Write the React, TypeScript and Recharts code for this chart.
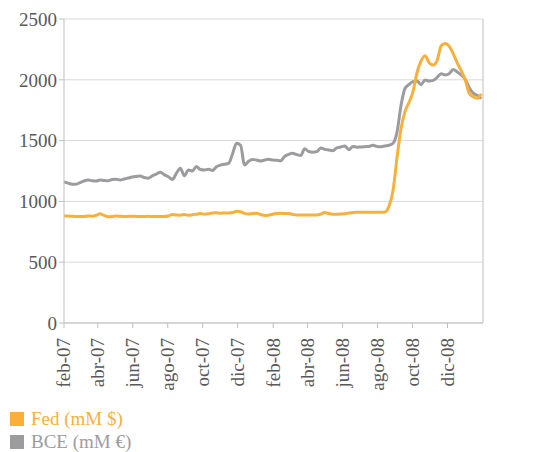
import { LineChart, Line, XAxis, YAxis, CartesianGrid } from 'recharts';

// weekly observations, starting 1 Feb 2007
const firstWeek = Date.UTC(2007, 1, 1);
const weekMs = 7 * 24 * 3600 * 1000;

const fedValues = [
  880, 880, 878, 876, 875, 876, 880, 878, 885, 898,
  885, 874, 876, 880, 878, 876, 877, 878, 876, 875,
  876, 877, 876, 875, 876, 876, 880, 893, 888, 887,
  892, 886, 890, 895, 900, 895, 898, 905, 906, 903,
  905, 904, 908, 918, 915, 902, 896, 900, 903, 892,
  885, 886, 895, 900, 902, 901, 900, 893, 888, 888,
  888, 888, 888, 888, 895, 908, 900, 895, 895, 896,
  898, 905, 908, 910, 910, 910, 910, 910, 910, 910,
  912, 960, 1090, 1360, 1600, 1740, 1815, 1905, 2060, 2155,
  2198, 2140, 2122, 2160, 2280, 2298, 2276, 2215, 2140, 2075,
  1998, 1890, 1860, 1848, 1885,
];

const bceValues = [
  1160, 1150, 1142, 1142, 1154, 1168, 1176, 1170, 1168, 1176,
  1172, 1170, 1180, 1182, 1176, 1184, 1192, 1200, 1205, 1209,
  1196, 1190, 1210, 1225, 1240, 1220, 1203, 1180, 1230, 1272,
  1210, 1258, 1250, 1286, 1262, 1258, 1264, 1255, 1285, 1298,
  1305, 1312, 1390, 1478, 1462, 1300, 1330, 1345, 1340, 1332,
  1340, 1346, 1340, 1338, 1334, 1370, 1387, 1395, 1385, 1378,
  1432, 1410, 1405, 1409, 1440, 1428, 1423, 1417, 1440, 1448,
  1455, 1425, 1452, 1446, 1448, 1450, 1452, 1462, 1452, 1450,
  1456, 1462, 1478, 1570, 1790, 1930, 1962, 1985, 1990, 1960,
  1998, 1990, 1995, 2020, 2050, 2040, 2050, 2085, 2065, 2040,
  2005, 1935, 1890, 1872, 1845,
];

const tickLabels = ['feb-07', 'abr-07', 'jun-07', 'ago-07', 'oct-07', 'dic-07',
  'feb-08', 'abr-08', 'jun-08', 'ago-08', 'oct-08', 'dic-08'];
const monthNames = ['ene', 'feb', 'mar', 'abr', 'may', 'jun', 'jul', 'ago', 'sep', 'oct', 'nov', 'dic'];
const yTicks = [0, 500, 1000, 1500, 2000, 2500];

const seriesNames = ['Fed (mM $)', 'BCE (mM €)'];
const ORANGE = '#F9B03A';
const GRAY = '#9C9C9F';
const TEXT = '#595959';
const FONT = '"Liberation Serif", serif';

const labelToTime = (label: string) => {
  const [m, y] = label.split('-');
  return Date.UTC(2000 + Number(y), monthNames.indexOf(m), 1);
};
const tickValues = tickLabels.map(labelToTime);
const labelByTime = new Map(tickValues.map((t, i) => [t, tickLabels[i]]));

const data = fedValues.map((fed, i) => ({
  date: firstWeek + i * weekMs,
  fed,
  bce: bceValues[i],
}));

const DateTick = (props: any) => {
  const { x, y, payload } = props;
  return (
    <text
      x={x}
      y={y}
      dy="0.34em"
      transform={`rotate(-90, ${x}, ${y})`}
      textAnchor="end"
      fill={TEXT}
      fontSize={19}
      fontFamily={FONT}
    >
      {labelByTime.get(payload.value)}
    </text>
  );
};

export default function App() {
  return (
    <div style={{ position: 'absolute', left: 0, top: 0, width: 540, height: 452, background: '#fff' }}>
      <LineChart
        width={540}
        height={400}
        data={data}
        margin={{ top: 19, right: 0, bottom: 0, left: 0 }}
      >
        <CartesianGrid vertical={false} stroke="#D9D9D9" yAxisId="left" />
        <XAxis
          dataKey="date"
          type="number"
          scale="time"
          domain={[Date.UTC(2007, 1, 1), Date.UTC(2009, 1, 1)]}
          ticks={tickValues}
          interval={0}
          height={77}
          tickSize={5}
          tickMargin={10}
          stroke="#BFBFBF"
          tick={<DateTick />}
        />
        <YAxis
          yAxisId="left"
          domain={[0, 2500]}
          ticks={yTicks}
          width={64}
          tickSize={5}
          tickMargin={2}
          stroke="#BFBFBF"
          tick={{ fill: TEXT, fontSize: 19, fontFamily: FONT }}
        />
        <YAxis
          yAxisId="right"
          orientation="right"
          domain={[0, 2500]}
          ticks={yTicks}
          width={57}
          tickSize={5}
          tickMargin={8}
          stroke="#BFBFBF"
          tick={{ fill: TEXT, fontSize: 19, fontFamily: FONT }}
        />
        <Line
          yAxisId="left"
          type="monotone"
          dataKey="bce"
          stroke={GRAY}
          strokeWidth={3}
          dot={false}
          isAnimationActive={false}
        />
        <Line
          yAxisId="left"
          type="monotone"
          dataKey="fed"
          stroke={ORANGE}
          strokeWidth={3}
          dot={false}
          isAnimationActive={false}
        />
      </LineChart>
      <div style={{ position: 'absolute', left: 10, top: 411, fontFamily: FONT, fontSize: 19 }}>
        {seriesNames.map((name, i) => (
          <div
            key={name}
            style={{ display: 'flex', alignItems: 'center', height: 16, marginBottom: 7, color: i === 0 ? ORANGE : GRAY }}
          >
            <span style={{ display: 'inline-block', width: 14, height: 14, background: i === 0 ? ORANGE : GRAY, marginRight: 7 }} />
            <span style={{ lineHeight: '16px' }}>{name}</span>
          </div>
        ))}
      </div>
    </div>
  );
}
